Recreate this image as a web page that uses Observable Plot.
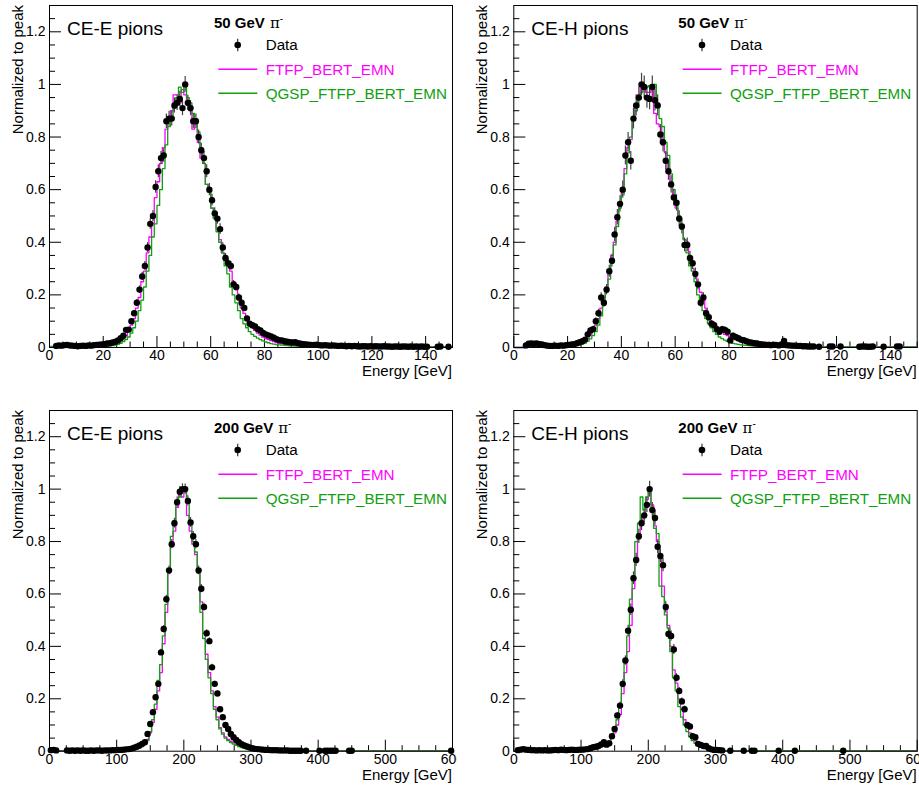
<!DOCTYPE html>
<html><head><meta charset="utf-8">
<script src="https://cdn.jsdelivr.net/npm/d3@7"></script>
<script src="https://cdn.jsdelivr.net/npm/@observablehq/plot@0.6"></script>
<style>
html,body{margin:0;padding:0;background:#fff;}
#wrap{position:relative;width:919px;height:787px;overflow:hidden;background:#fff;}
.panel{position:absolute;}
.panel svg{display:block;overflow:hidden;}
</style></head><body><div id="wrap"></div>
<script>
const FONT = '"Liberation Sans", Arial, Helvetica, sans-serif';
const MAGENTA = "#ff00ff", GREEN = "#10a010";

// ---------- tick labels ----------
const yMajor = [0, 0.2, 0.4, 0.6, 0.8, 1, 1.2];
const xMajor50 = [0, 20, 40, 60, 80, 100, 120, 140];
const xMajor200 = [0, 100, 200, 300, 400, 500, 600];
const legendLabels = ["Data", "FTFP_BERT_EMN", "QGSP_FTFP_BERT_EMN"];

// ---------- CE-E, 50 GeV (150 bins of 1 GeV) ----------
const ceE50Data = [
 null,null,.006,.008,.007,.009,.010,.008,.007,.006,
 .005,.006,.007,.006,.008,.007,.009,.010,.011,.012,
 .013,.015,.016,.019,.022,.027,.035,.045,.067,.068,
 .10,.13,.17,.22,.27,.31,.38,.47,.50,.61,
 .67,.72,.73,.86,.87,.87,.92,.93,.945,.91,
 1.0,.93,.91,.86,.86,.80,.75,.72,.67,.60,
 .56,.51,.49,.45,.38,.34,.32,.31,.24,.23,
 .19,.17,.15,.11,.09,.085,.08,.07,.065,.055,
 .05,.046,.042,.037,.032,.028,.027,.024,.022,.020,
 .019,.020,.016,.014,.013,.012,.011,.010,.010,.011,
 .009,.008,.009,.008,.007,.008,.007,.006,.007,.006,
 .005,.006,.005,.006,.005,.004,.005,.005,.004,.005,
 .004,.005,.004,.004,.005,.004,.004,.003,.004,.004,
 .003,.004,.004,.003,.004,.003,.004,.003,.004,.003,
 .003,null,null,null,.003,.004,null,null,.003,null];
const ceE50Ftfp = [
 .004,.004,.005,.004,.004,.005,.004,.004,.004,.004,
 .004,.004,.004,.005,.004,.005,.005,.005,.005,.006,
 .006,.007,.008,.010,.013,.017,.024,.033,.045,.060,
 .085,.11,.15,.19,.25,.29,.36,.42,.47,.57,
 .63,.70,.76,.83,.86,.90,.96,.96,.93,.98,
 .96,.92,.90,.83,.86,.78,.72,.70,.62,.60,
 .53,.49,.45,.41,.36,.34,.32,.29,.25,.22,
 .18,.15,.13,.11,.09,.075,.065,.055,.047,.040,
 .034,.030,.026,.022,.019,.016,.014,.012,.011,.010,
 .009,.008,.008,.007,.007,.006,.006,.006,.005,.005,
 .005,.005,.004,.004,.004,.004,.004,.003,.003,.003,
 .003,.003,.003,.003,.003,.003,.003,.003,.003,.003,
 .002,.002,.002,.002,.002,.002,.002,.002,.002,.002,
 .002,.002,.002,.002,.002,.002,.002,.002,.002,.002,
 .002,.002,.002,.002,.002,.002,.002,.002,.002,.002];
const ceE50Qgsp = [
 .003,.003,.004,.003,.003,.003,.003,.004,.003,.003,
 .003,.003,.003,.003,.003,.004,.003,.004,.004,.004,
 .004,.005,.006,.007,.009,.012,.016,.022,.030,.040,
 .055,.075,.10,.14,.18,.23,.29,.35,.42,.47,
 .54,.60,.68,.77,.84,.88,.91,.95,.99,.97,
 1.0,.95,.93,.89,.87,.82,.76,.70,.62,.59,
 .53,.49,.44,.40,.36,.31,.28,.23,.20,.17,
 .14,.11,.09,.075,.06,.05,.042,.036,.030,.025,
 .021,.018,.015,.013,.011,.010,.009,.008,.007,.006,
 .006,.005,.005,.005,.004,.004,.004,.004,.003,.003,
 .003,.003,.003,.003,.003,.003,.003,.003,.003,.003,
 .002,.002,.002,.002,.002,.002,.002,.002,.002,.002,
 .002,.002,.002,.002,.002,.002,.002,.002,.002,.002,
 .002,.002,.002,.002,.002,.002,.002,.002,.002,.002,
 .002,.002,.002,.002,.002,.002,.002,.002,.002,.002];

// ---------- CE-H, 50 GeV (150 bins of 1 GeV) ----------
const ceH50Data = [
 null,null,null,null,.008,.014,.015,.014,.015,.013,
 .012,.009,.007,.006,.006,.007,.006,.008,.007,.009,
 .010,.012,.013,.016,.020,.024,.030,.050,.065,.070,
 .10,.13,.19,.17,.22,.29,.33,.43,.495,.546,
 .60,.73,.78,.71,.87,.92,.95,1.0,.99,.95,
 .945,.99,.94,.92,.81,.78,.71,.67,.62,.57,
 .55,.49,.46,.39,.39,.34,.32,.28,.24,.17,
 .19,.13,.115,.09,.085,.07,.06,.07,.067,.06,
 .027,.045,.04,.035,.03,.028,.024,.02,.018,.016,
 .015,.013,.012,.011,.010,.009,.011,.010,.008,.012,
 .025,.009,.008,.007,.007,.006,.006,.005,.005,.004,
 .004,.004,null,.003,null,null,null,.004,.004,null,
 null,.004,null,null,null,null,null,null,.003,.004,
 .004,.003,.003,.004,null,null,null,.003,null,null,
 null,null,.004,.004,null,null,null,null,null,null];
const ceH50Ftfp = [
 0,0,0,0,.003,.006,.006,.006,.006,.006,
 .005,.005,.005,.005,.005,.005,.006,.006,.006,.006,
 .007,.008,.010,.012,.015,.020,.026,.035,.047,.060,
 .085,.11,.15,.19,.23,.29,.35,.40,.48,.55,
 .60,.68,.76,.79,.87,.91,.96,1.0,.99,.97,
 .97,.98,.89,.85,.84,.77,.74,.68,.63,.57,
 .53,.48,.45,.41,.40,.34,.30,.27,.23,.21,
 .18,.15,.12,.10,.085,.075,.065,.058,.050,.045,
 .040,.034,.030,.026,.022,.019,.017,.015,.013,.011,
 .010,.009,.008,.007,.007,.006,.006,.005,.005,.005,
 .004,.004,.004,.004,.003,.003,.003,.003,.003,.003,
 .002,.002,.002,.002,.002,.002,.002,.002,.002,.002,
 .002,.002,.002,.002,.002,.002,.002,.002,.002,.002,
 .002,.002,.002,.002,.002,.002,.002,.002,.002,.002,
 .002,.002,.002,.002,.002,.002,.002,.002,.002,.002];
const ceH50Qgsp = [
 0,0,0,0,.002,.003,.003,.003,.003,.003,
 .003,.003,.003,.003,.003,.003,.003,.003,.003,.003,
 .004,.005,.006,.008,.010,.013,.017,.024,.033,.045,
 .060,.085,.12,.16,.21,.26,.32,.39,.46,.53,
 .58,.66,.74,.80,.87,.90,.95,.97,.99,.99,
 .995,1.0,1.0,.93,.87,.84,.78,.73,.66,.60,
 .55,.50,.45,.41,.36,.31,.29,.25,.20,.17,
 .14,.11,.09,.075,.06,.05,.04,.034,.028,.023,
 .019,.016,.014,.012,.010,.009,.008,.007,.006,.005,
 .005,.004,.004,.004,.003,.003,.003,.003,.003,.003,
 .002,.002,.002,.002,.002,.002,.002,.002,.002,.002,
 .002,.002,.002,.002,.002,.002,.002,.002,.002,.002,
 .002,.002,.002,.002,.002,.002,.002,.002,.002,.002,
 .002,.002,.002,.002,.002,.002,.002,.002,.002,.002,
 .002,.002,.002,.002,.002,.002,.002,.002,.002,.002];

// ---------- CE-E, 200 GeV (150 bins of 4 GeV) ----------
const ceE200Data = [
 .004,.005,.003,null,null,null,.003,.002,.003,.002,
 .003,.002,.003,.002,.002,.003,.002,.003,.003,.002,
 .003,.003,.003,.004,.004,.005,.005,.006,.007,.008,
 .010,.013,.017,.022,.028,.034,.066,.104,.149,.206,
 .257,.377,.466,.58,.69,.79,.87,.95,.99,1.0,
 1.0,.955,.873,.82,.79,.69,.62,.55,.45,.42,
 .32,.257,.22,.16,.13,.10,.085,.066,.053,.043,
 .034,.027,.022,.018,.014,.011,.009,.008,.007,.006,
 .005,.005,.004,.004,.004,.003,.003,.003,.003,.002,
 .002,.002,.002,.002,null,.002,null,null,null,null,
 .002,null,.002,.002,.002,.002,.002,null,null,null,
 null,.002,.002,null,null,null,null,null,null,null,
 null,null,null,null,null,null,null,null,null,null,
 null,null,null,null,null,null,null,null,null,null,
 null,null,null,null,null,null,null,null,null,.002];
const ceE200Ftfp = [
 .002,.002,.002,.001,.001,.001,.001,.001,.001,.001,
 .001,.001,.001,.001,.001,.001,.001,.001,.001,.001,
 .002,.002,.002,.002,.002,.003,.003,.004,.005,.006,
 .007,.009,.011,.014,.020,.030,.045,.070,.11,.16,
 .23,.30,.41,.53,.68,.78,.84,.93,.98,.97,
 .99,.90,.84,.79,.75,.68,.57,.45,.37,.30,
 .23,.17,.13,.09,.07,.055,.045,.038,.032,.027,
 .022,.018,.014,.011,.009,.007,.005,.004,.003,.003,
 .002,.002,.002,.002,.002,.002,.002,.002,.002,.002,
 .001,.001,.001,.001,.001,.001,.001,.001,.001,.001,
 .001,.001,.001,.001,.001,.001,.001,.001,.001,.001,
 .001,.001,.001,.001,.001,.001,.001,.001,.001,.001,
 .001,.001,.001,.001,.001,.001,.001,.001,.001,.001,
 .001,.001,.001,.001,.001,.001,.001,.001,.001,.001,
 .001,.001,.001,.001,.001,.001,.001,.001,.001,.001];
const ceE200Qgsp = [
 .002,.002,.001,.001,.001,.001,.001,.001,.001,.001,
 .001,.001,.001,.001,.001,.001,.001,.001,.001,.001,
 .002,.002,.002,.002,.002,.002,.003,.003,.004,.005,
 .006,.008,.010,.013,.018,.027,.040,.075,.12,.18,
 .27,.33,.44,.56,.69,.82,.88,.95,.97,.99,
 1.0,.95,.88,.80,.76,.68,.53,.43,.35,.28,
 .22,.16,.12,.085,.065,.05,.04,.033,.027,.022,
 .018,.014,.011,.009,.007,.005,.004,.003,.003,.002,
 .002,.002,.002,.002,.002,.002,.002,.002,.002,.002,
 .001,.001,.001,.001,.001,.001,.001,.001,.001,.001,
 .001,.001,.001,.001,.001,.001,.001,.001,.001,.001,
 .001,.001,.001,.001,.001,.001,.001,.001,.001,.001,
 .001,.001,.001,.001,.001,.001,.001,.001,.001,.001,
 .001,.001,.001,.001,.001,.001,.001,.001,.001,.001,
 .001,.001,.001,.001,.001,.001,.001,.001,.001,.001];

// ---------- CE-H, 200 GeV (150 bins of 4 GeV) ----------
const ceH200Data = [
 null,.004,.006,.008,.006,.005,.004,.004,.003,.004,
 .003,.004,.003,.003,.004,.005,.004,.006,.005,.004,
 .005,.006,.005,.005,.006,.006,.007,.008,.011,.015,
 .017,.020,.026,.034,.025,.030,.057,.085,.136,.174,
 .257,.346,.46,.54,.66,.73,.82,.87,.90,.94,
 1.0,.92,.89,.78,.745,.71,.55,.447,.44,.388,
 .28,.23,.19,.16,.10,.094,.057,.053,.028,.024,
 .020,.020,.011,.007,.005,.005,.004,.003,null,null,
 .002,null,null,null,null,.002,null,null,.002,.002,
 null,null,null,null,null,null,null,null,.002,null,
 null,null,null,null,.002,null,null,null,null,null,
 null,null,null,null,null,null,null,null,null,null,
 null,null,.002,null,null,null,null,null,null,null,
 null,null,null,null,null,null,null,null,null,null,
 null,null,null,null,null,null,null,null,null,null];
const ceH200Ftfp = [
 .002,.003,.003,.003,.003,.002,.002,.002,.002,.002,
 .002,.002,.002,.003,.002,.002,.002,.003,.002,.002,
 .003,.003,.003,.003,.003,.004,.005,.006,.008,.010,
 .012,.015,.019,.024,.030,.038,.050,.070,.10,.14,
 .22,.30,.38,.48,.62,.72,.81,.87,.89,.96,
 1.0,.94,.86,.80,.75,.63,.55,.48,.40,.31,
 .26,.20,.16,.12,.10,.07,.05,.04,.03,.022,
 .016,.012,.009,.006,.004,.003,.002,.002,.002,.002,
 .002,.001,.001,.001,.001,.001,.001,.001,.001,.001,
 .001,.001,.001,.001,.001,.001,.001,.001,.001,.001,
 .001,.001,.001,.001,.001,.001,.001,.001,.001,.001,
 .001,.001,.001,.001,.001,.001,.001,.001,.001,.001,
 .001,.001,.001,.001,.001,.001,.001,.001,.001,.001,
 .001,.001,.001,.001,.001,.001,.001,.001,.001,.001,
 .001,.001,.001,.001,.001,.001,.001,.001,.001,.001];
const ceH200Qgsp = [
 .002,.002,.002,.002,.002,.002,.002,.002,.002,.002,
 .002,.002,.002,.002,.002,.002,.002,.002,.002,.002,
 .002,.002,.002,.002,.002,.003,.004,.005,.006,.008,
 .010,.013,.017,.022,.030,.040,.055,.080,.12,.17,
 .26,.34,.44,.58,.67,.80,.87,.97,.92,.97,
 .99,.93,.85,.83,.63,.59,.52,.47,.38,.28,
 .23,.17,.13,.10,.075,.055,.04,.03,.022,.016,
 .012,.009,.006,.004,.003,.002,.002,.002,.002,.002,
 .001,.001,.001,.001,.001,.001,.001,.001,.001,.001,
 .001,.001,.001,.001,.001,.001,.001,.001,.001,.001,
 .001,.001,.001,.001,.001,.001,.001,.001,.001,.001,
 .001,.001,.001,.001,.001,.001,.001,.001,.001,.001,
 .001,.001,.001,.001,.001,.001,.001,.001,.001,.001,
 .001,.001,.001,.001,.001,.001,.001,.001,.001,.001,
 .001,.001,.001,.001,.001,.001,.001,.001,.001,.001];

// ---------- panels ----------
const panels = [
 {name:"CE-E pions", beam:"50", xMax:150, bin:1, xMajor:xMajor50, minorStep:5, data:ceE50Data, ftfp:ceE50Ftfp, qgsp:ceE50Qgsp, err:0.03,
  left:0, top:0, width:457, height:392, m:{l:49, r:5, t:5, b:45}},
 {name:"CE-H pions", beam:"50", xMax:150, bin:1, xMajor:xMajor50, minorStep:5, data:ceH50Data, ftfp:ceH50Ftfp, qgsp:ceH50Qgsp, err:0.042,
  left:460, top:0, width:459, height:392, m:{l:53.3, r:2.3, t:5, b:45}},
 {name:"CE-E pions", beam:"200", xMax:600, bin:4, xMajor:xMajor200, minorStep:25, data:ceE200Data, ftfp:ceE200Ftfp, qgsp:ceE200Qgsp, err:0.02,
  left:0, top:395, width:457, height:392, m:{l:49, r:5, t:15, b:36.3}},
 {name:"CE-H pions", beam:"200", xMax:600, bin:4, xMajor:xMajor200, minorStep:25, data:ceH200Data, ftfp:ceH200Ftfp, qgsp:ceH200Qgsp, err:0.03,
  left:460, top:395, width:459, height:392, m:{l:53.3, r:2.3, t:15, b:36.3}}
];

const wrap = document.getElementById("wrap");
const yMinor = d3.range(0, 1.2501, 0.05).filter(v => !yMajor.some(t => Math.abs(t - v) < 1e-6));

for (const p of panels) {
  const W = p.width - p.m.l - p.m.r;
  const H = p.height - p.m.t - p.m.b;
  const n = p.data.length;
  const steps = vals => vals.map((v, i) => ({x: i * p.bin, y: v})).concat([{x: n * p.bin, y: vals[n - 1]}]);
  const pts = p.data.map((v, i) => v == null ? null : {x: (i + 0.5) * p.bin, y: v, e: p.err * Math.sqrt(v)}).filter(Boolean);
  const xMinor = d3.range(0, p.xMax + 0.001, p.minorStep).filter(v => !p.xMajor.includes(v));

  const svg = Plot.plot({
    width: p.width, height: p.height,
    marginLeft: p.m.l, marginRight: p.m.r, marginTop: p.m.t, marginBottom: p.m.b,
    x: {domain: [0, p.xMax]},
    y: {domain: [0, 1.3]},
    style: {fontFamily: FONT, fontSize: "14px", background: "white", color: "black", overflow: "hidden"},
    marks: [
      Plot.axisX({ticks: p.xMajor, tickSize: 0, tickPadding: 3, label: null, tickFormat: d => String(d)}),
      Plot.axisY({ticks: yMajor, tickSize: 0, tickPadding: 4, label: null, tickFormat: d3.format("~g")}),
      Plot.ruleX(p.xMajor, {stroke: "black", insetTop: H - 11}),
      Plot.ruleX(xMinor, {stroke: "black", insetTop: H - 5.5}),
      Plot.ruleY(yMajor, {stroke: "black", insetRight: W - 12}),
      Plot.ruleY(yMinor, {stroke: "black", insetRight: W - 6}),
      Plot.line(steps(p.ftfp), {x: "x", y: "y", curve: "step-after", stroke: MAGENTA, strokeWidth: 1.3}),
      Plot.line(steps(p.qgsp), {x: "x", y: "y", curve: "step-after", stroke: GREEN, strokeWidth: 1.3}),
      Plot.ruleX(pts, {x: "x", y1: d => d.y - d.e, y2: d => d.y + d.e, stroke: "#444", strokeWidth: 1.2}),
      Plot.dot(pts, {x: "x", y: "y", r: 3.2, fill: "black", stroke: "none"}),
      Plot.frame({stroke: "black", strokeWidth: 1})
    ]
  });

  // annotations (positioned relative to the frame)
  const fl = p.m.l, ft = p.m.t;
  const g = d3.select(svg).append("g").attr("font-family", FONT).attr("fill", "black").attr("text-anchor", "start");
  g.append("text").attr("x", fl + 18).attr("y", ft + 29.5).attr("font-size", 19).text(p.name);
  const t = g.append("text").attr("x", fl + 165).attr("y", ft + 22.5).attr("font-size", 15);
  t.append("tspan").attr("font-weight", "bold").text(p.beam + " GeV");
  t.append("tspan").attr("dx", 5).attr("font-family", '"DejaVu Serif", "Liberation Serif", serif').attr("font-size", 15).text("π");
  t.append("tspan").attr("dy", -6).attr("font-size", 10).text("-");
  g.append("text").attr("transform", `translate(${fl - 26.5},${ft}) rotate(-90)`).attr("text-anchor", "end").attr("font-size", 15).text("Normalized to peak");
  g.append("text").attr("x", fl + W).attr("y", ft + H + 29).attr("text-anchor", "end").attr("font-size", 15).text("Energy [GeV]");
  // legend
  g.append("line").attr("x1", fl + 188.7).attr("x2", fl + 188.7).attr("y1", ft + 33.7).attr("y2", ft + 46.3).attr("stroke", "#333").attr("stroke-width", 1.2);
  g.append("circle").attr("cx", fl + 188.7).attr("cy", ft + 40).attr("r", 3.3).attr("fill", "black");
  g.append("line").attr("x1", fl + 169.3).attr("x2", fl + 208.3).attr("y1", ft + 64.3).attr("y2", ft + 64.3).attr("stroke", MAGENTA).attr("stroke-width", 1.4);
  g.append("line").attr("x1", fl + 169.3).attr("x2", fl + 208.3).attr("y1", ft + 88.3).attr("y2", ft + 88.3).attr("stroke", GREEN).attr("stroke-width", 1.4);
  const colors = ["black", MAGENTA, GREEN];
  legendLabels.forEach((lab, i) => {
    g.append("text").attr("x", fl + 216.7).attr("y", ft + 45.3 + i * 24.2).attr("font-size", 15.2).attr("fill", colors[i]).text(lab);
  });

  const div = document.createElement("div");
  div.className = "panel";
  div.style.left = p.left + "px";
  div.style.top = p.top + "px";
  div.style.width = p.width + "px";
  div.style.height = p.height + "px";
  div.style.overflow = "hidden";
  div.appendChild(svg);
  wrap.appendChild(div);
}
</script></body></html>
